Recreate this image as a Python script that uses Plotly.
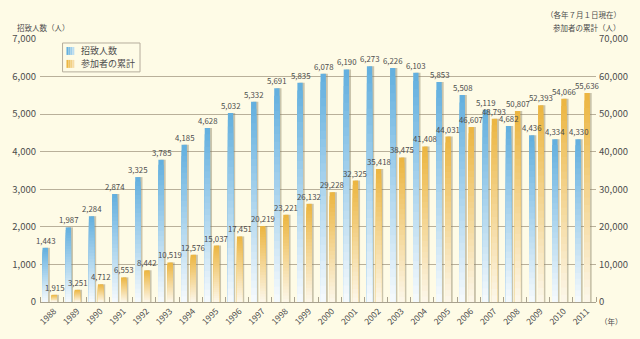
import plotly.graph_objects as go

# 招致人数（人）と参加者の累計（人）, 1988–2011
years = [str(y) for y in range(1988, 2012)]
invited = [1443, 1987, 2284, 2874, 3325, 3785, 4185, 4628, 5032, 5332, 5691, 5835,
           6078, 6190, 6273, 6226, 6103, 5853, 5508, 5119, 4682, 4436, 4334, 4330]
cumulative = [1915, 3251, 4712, 6553, 8442, 10519, 12576, 15037, 17451, 20219, 23221, 26132,
              29228, 32325, 35418, 38475, 41408, 44031, 46607, 48793, 50807, 52393, 54066, 55636]
left_ticks = list(range(0, 7001, 1000))
right_ticks = list(range(0, 70001, 10000))

BG = "#FEFBE6"
GRID = "#B9B09A"
TXT = "#4d4d4d"
JP = "Noto Sans CJK JP"
NUM = "Liberation Sans Narrow, Noto Sans CJK JP"

BLUE_TOP, BLUE_BASE = (100, 176, 223), (244, 249, 252)
GOLD_TOP, GOLD_BASE = (236, 182, 66), (252, 246, 232)

W, H = 640, 339
ML, MR, MT, MB = 35, 38, 39, 36
PW, PH = W - ML - MR, H - MT - MB

N_STEPS = 28          # bands used to shade each bar from top colour to pale base
BAR_W = 0.23
BLUE_OFF = -0.39
GOLD_OFF = 0.0
SHADOW_DX = 0.085

x_idx = list(range(len(years)))


def mix(c1, c2, t):
    return "rgb({},{},{})".format(*[round(a + (b - a) * t) for a, b in zip(c1, c2)])


def px_x(p):
    return (p - ML) / PW


def px_y(p):
    return 1 - (p - MT) / PH


def shaded_bars(fig, values, offset, top_rgb, base_rgb, yaxis):
    # drop shadow to the right of every bar
    fig.add_trace(go.Bar(
        x=x_idx, y=values, offset=offset + SHADOW_DX, width=BAR_W, yaxis=yaxis,
        marker=dict(color="rgba(140,128,100,0.45)", line_width=0),
        showlegend=False, hoverinfo="skip"))
    # nested bars, tallest first, each a little paler, giving a vertical gradient
    for j in range(N_STEPS):
        frac = (N_STEPS - j) / N_STEPS
        t = j / (N_STEPS - 1)
        fig.add_trace(go.Bar(
            x=x_idx, y=[v * frac for v in values], offset=offset, width=BAR_W, yaxis=yaxis,
            marker=dict(color=mix(top_rgb, base_rgb, t), line_width=0),
            showlegend=False, hoverinfo="skip"))


def value_labels(fig, values, offset, yref):
    # annotations sit above every subplot layer, so no bar can hide them
    for i, v in zip(x_idx, values):
        fig.add_annotation(x=i + offset + BAR_W / 2, y=v, xref="x", yref=yref,
                           text=f"{v:,}", showarrow=False, xanchor="center",
                           yanchor="bottom", yshift=0,
                           font=dict(family=NUM, size=7.8, color=TXT))


fig = go.Figure()
shaded_bars(fig, invited, BLUE_OFF, BLUE_TOP, BLUE_BASE, "y")
shaded_bars(fig, cumulative, GOLD_OFF, GOLD_TOP, GOLD_BASE, "y2")
value_labels(fig, invited, BLUE_OFF, "y")
value_labels(fig, cumulative, GOLD_OFF, "y2")

fig.update_layout(
    width=W, height=H,
    margin=dict(l=ML, r=MR, t=MT, b=MB),
    paper_bgcolor=BG, plot_bgcolor=BG,
    barmode="overlay",
    font=dict(family=JP, color=TXT),
    showlegend=False,
    xaxis=dict(
        range=[-0.5, len(years) - 0.5],
        tickmode="array", tickvals=[i + 0.1 for i in x_idx], ticktext=years,
        tickangle=-45, ticks="", tickfont=dict(family=NUM, size=8.5, color=TXT),
        showgrid=False, zeroline=False,
        showline=True, linecolor="#a9a28f", linewidth=1,
        minor=dict(tickmode="array", tickvals=[i - 0.5 for i in range(len(years) + 1)],
                   ticks="inside", ticklen=5, tickcolor="#a9a28f", tickwidth=1, showgrid=False),
    ),
    yaxis=dict(
        range=[0, 7000], tickmode="array", tickvals=left_ticks,
        ticktext=[f"{v:,}" for v in left_ticks],
        tickfont=dict(family=NUM, size=9.5, color=TXT), ticks="",
        ticklabelstandoff=3,
        showgrid=True, gridcolor=GRID, gridwidth=1, zeroline=False, showline=False,
    ),
    yaxis2=dict(
        range=[0, 70000], overlaying="y", side="right",
        tickmode="array", tickvals=right_ticks,
        ticktext=[f"{v:,}" for v in right_ticks],
        tickfont=dict(family=NUM, size=9.5, color=TXT), ticks="",
        ticklabelstandoff=2,
        showgrid=False, zeroline=False, showline=False,
    ),
)

# legend box drawn by hand for a compact layout
shapes = [dict(type="rect", xref="paper", yref="paper",
               x0=px_x(58), x1=px_x(137), y0=px_y(43), y1=px_y(72),
               line=dict(color="#b5ad9c", width=1), fillcolor=BG, layer="above")]
for cy, top, base in [(51, BLUE_TOP, BLUE_BASE), (64, GOLD_TOP, GOLD_BASE)]:
    for k in range(4):
        shapes.append(dict(type="rect", xref="paper", yref="paper",
                           x0=px_x(62 + 2 * k), x1=px_x(64 + 2 * k),
                           y0=px_y(cy - 4), y1=px_y(cy + 4),
                           line=dict(width=0), fillcolor=mix(top, base, k / 5), layer="above"))
fig.update_layout(shapes=shapes)
for cy, label in [(51, "招致人数"), (64, "参加者の累計")]:
    fig.add_annotation(text=label, xref="paper", yref="paper", x=px_x(75), y=px_y(cy),
                       xanchor="left", yanchor="middle", showarrow=False,
                       font=dict(family=JP, size=9, color=TXT))

fig.add_annotation(text="招致人数（人）", xref="paper", yref="paper", x=px_x(9), y=px_y(27),
                   xanchor="left", yanchor="middle", showarrow=False,
                   font=dict(family=JP, size=7.5, color=TXT))
fig.add_annotation(text="（各年７月１日現在）", xref="paper", yref="paper", x=px_x(630), y=px_y(14),
                   xanchor="right", yanchor="middle", showarrow=False,
                   font=dict(family=JP, size=7.5, color=TXT))
fig.add_annotation(text="参加者の累計（人）", xref="paper", yref="paper", x=px_x(630), y=px_y(27),
                   xanchor="right", yanchor="middle", showarrow=False,
                   font=dict(family=JP, size=7.5, color=TXT))
fig.add_annotation(text="（年）", xref="paper", yref="paper", x=px_x(604), y=px_y(323),
                   xanchor="left", yanchor="middle", showarrow=False,
                   font=dict(family=JP, size=7.5, color=TXT))

fig.write_html("out.html")
